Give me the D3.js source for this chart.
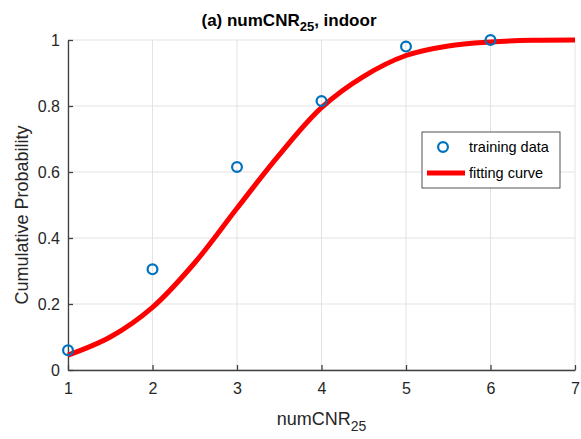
<!DOCTYPE html>
<html><head><meta charset="utf-8">
<script src="https://cdn.jsdelivr.net/npm/d3@7"></script>
<style>body{margin:0;background:#fff}svg{display:block;font-family:"Liberation Sans",Arial,sans-serif}</style>
</head><body>
<script>
const xTicks = [1,2,3,4,5,6,7];
const yTicks = [0,0.2,0.4,0.6,0.8,1];
const yTickLabels = ["0","0.2","0.4","0.6","0.8","1"];
const trainX = [1,2,3,4,5,6];
const trainY = [0.06,0.305,0.615,0.815,0.98,1.0];
const curveX = [1,1.5,2,2.5,3,3.5,4,4.5,5,5.5,6,6.5,7];
const curveY = [0.045,0.10,0.19,0.325,0.49,0.652,0.795,0.89,0.953,0.982,0.994,0.999,1.0];
const legendLabels = ["training data","fitting curve"];

const W=581,H=439, L=68, R=575, T=40, B=370;
const svg=d3.select("body").append("svg").attr("width",W).attr("height",H);
const x=d3.scaleLinear().domain([1,7]).range([L,R]);
const y=d3.scaleLinear().domain([0,1]).range([B,T]);

// grid
svg.append("g").selectAll("line").data(xTicks).join("line")
  .attr("x1",d=>x(d)).attr("x2",d=>x(d)).attr("y1",T).attr("y2",B)
  .attr("stroke","#e3e3e3").attr("stroke-width",1);
svg.append("g").selectAll("line").data(yTicks).join("line")
  .attr("x1",L).attr("x2",R).attr("y1",d=>y(d)).attr("y2",d=>y(d))
  .attr("stroke","#e3e3e3").attr("stroke-width",1);

// axes
const xa=svg.append("g").attr("transform",`translate(0,${B})`)
  .call(d3.axisBottom(x).tickValues(xTicks).tickFormat(d3.format("d")).tickSizeInner(-5).tickSizeOuter(0).tickPadding(13));
const ya=svg.append("g").attr("transform",`translate(${L},0)`)
  .call(d3.axisLeft(y).tickValues(yTicks).tickFormat((d,i)=>yTickLabels[i]).tickSizeInner(-5).tickSizeOuter(0).tickPadding(8));
[xa,ya].forEach(a=>{
  a.select(".domain").attr("stroke","#404040").attr("stroke-width",1.3);
  a.selectAll(".tick line").attr("stroke","#404040").attr("stroke-width",1.3);
  a.selectAll(".tick text").attr("fill","#262626").style("font-size","16px").style("font-family",'"Liberation Sans",Arial,sans-serif');
});

// curve
const line=d3.line().x(d=>x(d[0])).y(d=>y(d[1])).curve(d3.curveCatmullRom);
svg.append("path").datum(curveX.map((v,i)=>[v,curveY[i]]))
  .attr("d",line).attr("fill","none").attr("stroke","#ff0000").attr("stroke-width",5);

// points
svg.append("g").selectAll("circle").data(trainX.map((v,i)=>[v,trainY[i]])).join("circle")
  .attr("cx",d=>x(d[0])).attr("cy",d=>y(d[1])).attr("r",4.9)
  .attr("fill","none").attr("stroke","#0072BD").attr("stroke-width",2.2);

// title
const t=svg.append("text").attr("x",289).attr("y",26).attr("text-anchor","middle")
  .attr("fill","#000").style("font-size","17px").style("font-weight","bold");
t.append("tspan").text("(a) numCNR");
t.append("tspan").attr("dy",5).style("font-size","13px").text("25");
t.append("tspan").attr("dy",-5).text(", indoor");

// x label
const xl=svg.append("text").attr("x",(L+R)/2).attr("y",425).attr("text-anchor","middle")
  .attr("fill","#262626").style("font-size","18px");
xl.append("tspan").text("numCNR");
xl.append("tspan").attr("dy",6).style("font-size","14px").text("25");

// y label
svg.append("text").attr("transform",`translate(28,215) rotate(-90)`).attr("text-anchor","middle")
  .attr("fill","#262626").style("font-size","18px").text("Cumulative Probability");

// legend
const lg=svg.append("g");
lg.append("rect").attr("x",422).attr("y",132).attr("width",138).attr("height",56)
  .attr("fill","#fff").attr("stroke","#262626").attr("stroke-width",0.8);
lg.append("circle").attr("cx",443).attr("cy",147).attr("r",4.9).attr("fill","none").attr("stroke","#0072BD").attr("stroke-width",2.2);
lg.append("line").attr("x1",427).attr("x2",465).attr("y1",173).attr("y2",173).attr("stroke","#ff0000").attr("stroke-width",5);
lg.selectAll("text.lt").data(legendLabels).join("text").attr("class","lt")
  .attr("x",469).attr("y",(d,i)=>152+i*26).attr("fill","#000").style("font-size","14.5px").text(d=>d);
</script>
</body></html>
